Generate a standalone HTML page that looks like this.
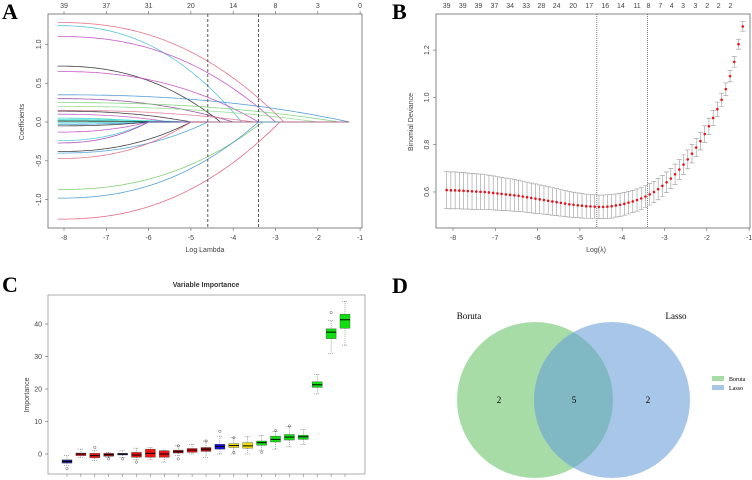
<!DOCTYPE html>
<html><head><meta charset="utf-8"><style>
html,body{margin:0;padding:0;background:#fff;}
svg{display:block;font-family:"Liberation Sans",sans-serif;}
.lbl{font-family:"Liberation Serif",serif;font-weight:bold;font-size:22px;}
.tk{font-size:7px;fill:#444;}
</style></head><body>
<svg id="fig" width="752" height="480" viewBox="0 0 752 480">
<text class="lbl" x="2" y="19">A</text>
<text class="lbl" x="392" y="19">B</text>
<text class="lbl" x="2" y="292">C</text>
<text class="lbl" x="392" y="293">D</text>
<g id="ga"></g>
<g id="gb"></g>
<g id="gc"></g>
<g id="gd">
 <circle cx="535" cy="400" r="78" fill="#a8dca6"/>
 <circle cx="612" cy="400" r="78" fill="#a8c6e8"/>
 <clipPath id="cl"><circle cx="535" cy="400" r="78"/></clipPath>
 <circle cx="612" cy="400" r="78" fill="#80b9c4" clip-path="url(#cl)"/>
 <text x="469" y="319" font-family="Liberation Serif" font-size="9" text-anchor="middle">Boruta</text>
 <text x="676" y="319" font-family="Liberation Serif" font-size="9" text-anchor="middle">Lasso</text>
 <text x="499" y="403" font-family="Liberation Serif" font-size="9" text-anchor="middle">2</text>
 <text x="574" y="403" font-family="Liberation Serif" font-size="9" text-anchor="middle">5</text>
 <text x="648" y="403" font-family="Liberation Serif" font-size="9" text-anchor="middle">2</text>
 <rect x="712" y="376" width="12" height="5" fill="#a8dca6"/>
 <text x="729" y="381" font-family="Liberation Serif" font-size="6">Boruta</text>
 <rect x="712" y="385" width="12" height="5" fill="#a8c6e8"/>
 <text x="729" y="390" font-family="Liberation Serif" font-size="6">Lasso</text>
</g>
</svg>
<script>
// ---- Panel A data ----
const aStart=[1.28,1.24,1.1,0.72,0.65,0.35,0.30,0.25,0.20,0.15,0.14,0.10,0.05,0.03,0.02,0.01,-0.01,-0.03,-0.05,-0.13,-0.24,-0.27,-0.38,-0.40,-0.47,-0.87,-0.98,-1.25];
const aZero=[-2.8,-3.8,-3.0,-4.3,-3.4,-1.25,-4.0,-1.5,-2.0,-3.5,-5.0,-5.5,-6.0,-5.0,-6.0,-5.0,-5.0,-6.0,-6.0,-6.0,-6.0,-6.0,-5.0,-4.6,-5.0,-3.3,-3.4,-2.9];
const aTop=[39,37,31,20,14,8,3,0];
const aXTicks=[-8,-7,-6,-5,-4,-3,-2,-1];
const aYTicks=[-1.0,-0.5,0.0,0.5,1.0];
const aVLines=[-4.6,-3.4];
// ---- Panel B data ----
const bMean=[0.608,0.607,0.607,0.606,0.605,0.604,0.603,0.602,0.601,0.600,0.598,0.596,0.594,0.592,0.590,0.588,0.586,0.584,0.581,0.578,0.575,0.572,0.569,0.566,0.563,0.560,0.557,0.554,0.551,0.548,0.546,0.544,0.542,0.540,0.539,0.538,0.537,0.537,0.538,0.540,0.543,0.546,0.550,0.555,0.560,0.566,0.573,0.581,0.590,0.600,0.612,0.626,0.641,0.657,0.675,0.695,0.716,0.738,0.762,0.788,0.815,0.845,0.878,0.913,0.950,0.990,1.035,1.09,1.15,1.225,1.30];
const bSE=[0.078,0.078,0.078,0.077,0.077,0.076,0.076,0.075,0.075,0.074,0.073,0.072,0.071,0.070,0.069,0.068,0.067,0.066,0.065,0.064,0.063,0.062,0.061,0.060,0.059,0.058,0.057,0.056,0.055,0.054,0.053,0.052,0.052,0.051,0.051,0.050,0.050,0.050,0.050,0.050,0.049,0.049,0.048,0.048,0.047,0.047,0.046,0.046,0.045,0.045,0.045,0.044,0.044,0.043,0.043,0.042,0.041,0.040,0.039,0.038,0.037,0.035,0.034,0.032,0.030,0.028,0.026,0.024,0.022,0.021,0.020];
const bTopLabels=[39,39,39,37,34,33,28,24,20,17,16,14,11,8,7,4,3,3,2,2,2];
const bTopPos=[-8.15,-7.77,-7.4,-7.02,-6.65,-6.27,-5.91,-5.55,-5.16,-4.78,-4.4,-4.03,-3.65,-3.38,-3.1,-2.83,-2.56,-2.27,-1.99,-1.72,-1.44];
const bYTicks=[0.6,0.8,1.0,1.2];
const bVLines=[-4.6,-3.4];
// ---- Panel C data ----
const cMed=[-2.3,0,-0.5,-0.2,0,-0.3,0.2,0,0.7,1.2,1.5,2.3,2.6,2.5,3.5,4.5,5.2,5.3,21.3,37.5,41.3];
const cQ1=[-2.8,-0.5,-1.2,-0.7,-0.3,-1,-1,-1,0.3,0.5,0.8,1.5,2,1.8,2.7,3.7,4.3,4.5,20.5,35.5,38.7];
const cQ3=[-1.8,0.3,0.2,0.2,0.2,0.5,1.5,1,1.2,1.7,2,3,3.2,3.5,4,5.5,6,5.8,22.2,38.5,43];
const cLo=[-3.5,-1,-2,-1,-1,-1.8,-1.8,-2.5,-0.5,0,-1,0,0,0,1,1.5,2.2,3,18.5,31,33.5];
const cHi=[-0.5,1.5,1,0.5,1,1.8,2,1.2,2.5,3,4,5.5,5,5.3,5.7,7,8.5,7.5,24.5,41,47];
const cOut=[[-4.5],[],[2],[-1.5],[-1.5],[-2.5],[],[],[2.5,-1.5],[],[4],[7],[0.5,5],[],[0.5],[7.2],[8.6],[],[],[43.5],[]];
const cType=["shadow","rej","rej","rejd","shadown","rej","rej","rej","rejd","rej","rejd","shadowb","tent","tent","conf","conf","conf","conf","conf","conf","conf"];
const cYTicks=[0,10,20,30,40];

const NS="http://www.w3.org/2000/svg";
function mk(parent,tag,attrs,txt){const e=document.createElementNS(NS,tag);for(const k in attrs)e.setAttribute(k,attrs[k]);if(txt!==undefined)e.textContent=txt;parent.appendChild(e);return e;}

// Panel A
(function(){
 const g=document.getElementById('ga');
 const X=v=>64+(v+8)*42.3, Y=v=>122-v*77.7;
 let r=mk(g,'rect',{x:48,y:14,width:314,height:214,fill:'none',stroke:'#666','stroke-width':0.8});
 
 
 const cols=['#e0607a','#3fb8d8','#c040c0','#222','#c040c0','#3a8fd0','#8a3a9a','#70d070','#8ad88a','#e07090','#222','#c050c0','#28c8c8','#30e0d0','#20c0a0','#222','#20d0c0','#3090d0','#222','#c040c0','#40c8e0','#a030b0','#222','#3a9ad8','#e0607a','#70c860','#3a8fd0','#e05070'];
 aStart.forEach((c,i)=>{
  const x0=aZero[i];let d='';
  for(let x=-8.15;x<=-1.25+1e-9;x+=0.05){let t=(x+8.15)/(x0+8.15);let v=t>=1?0:c*(1-Math.pow(t,2.3));d+=(d?'L':'M')+X(x).toFixed(1)+','+Y(v).toFixed(1);}
  const p=mk(g,'path',{d:d,fill:'none',stroke:cols[i%cols.length],'stroke-width':0.8,opacity:0.85});
  
  
 });
 aVLines.forEach(v=>{const l=mk(g,'line',{x1:X(v),x2:X(v),y1:14,y2:228,stroke:'#333','stroke-dasharray':'3,2','stroke-width':0.8});
  
  });
 aXTicks.forEach((v,i)=>{
  mk(g,'line',{x1:X(v),x2:X(v),y1:228,y2:231,stroke:'#666','stroke-width':0.6});
  const t=mk(g,'text',{x:X(v),y:240,class:'tk','text-anchor':'middle'},v);
  
  
  mk(g,'line',{x1:X(v),x2:X(v),y1:14,y2:11,stroke:'#666','stroke-width':0.6});
  const u=mk(g,'text',{x:X(v),y:8,class:'tk','text-anchor':'middle'},aTop[i]);
  
  
 });
 aYTicks.forEach(v=>{
  mk(g,'line',{x1:45,x2:48,y1:Y(v),y2:Y(v),stroke:'#666','stroke-width':0.6});
  const t=mk(g,'text',{x:0,y:0,class:'tk','text-anchor':'middle',transform:`translate(41,${Y(v)}) rotate(-90)`},v.toFixed(1));
  
  
 });
 let t=mk(g,'text',{x:0,y:0,class:'tk','text-anchor':'middle',transform:'translate(24,122) rotate(-90)'},'Coefficients');
 
 
 t=mk(g,'text',{x:205,y:252,class:'tk','text-anchor':'middle'},'Log Lambda');
 
 
})();

// Panel B
(function(){
 const g=document.getElementById('gb');
 const X=v=>453+(v+8)*42.3, Y=v=>192-(v-0.6)*236.5;
 let r=mk(g,'rect',{x:436,y:14,width:314,height:214,fill:'none',stroke:'#666','stroke-width':0.8});
 
 
 bVLines.forEach(v=>{const l=mk(g,'line',{x1:X(v),x2:X(v),y1:14,y2:228,stroke:'#444','stroke-dasharray':'1,1','stroke-width':0.7});
  
  });
 bMean.forEach((m,i)=>{
  const x=X(-8.15+0.1*i), s=bSE[i];
  const e=mk(g,'path',{d:`M${x},${Y(m+s)}L${x},${Y(m-s)}M${x-2.5},${Y(m+s)}L${x+2.5},${Y(m+s)}M${x-2.5},${Y(m-s)}L${x+2.5},${Y(m-s)}`,stroke:'#999','stroke-width':0.6,fill:'none'});
  
  
  const c=mk(g,'circle',{cx:x,cy:Y(m),r:1.3,fill:'#e8141c'});
  
  
 });
 [-8,-7,-6,-5,-4,-3,-2,-1].forEach(v=>{
  mk(g,'line',{x1:X(v),x2:X(v),y1:228,y2:231,stroke:'#666','stroke-width':0.6});
  const t=mk(g,'text',{x:X(v),y:240,class:'tk','text-anchor':'middle'},v);
  
  
 });
 bTopLabels.forEach((v,i)=>{
  const t=mk(g,'text',{x:X(bTopPos[i]),y:8,class:'tk','text-anchor':'middle'},v);
  
  
 });
 bYTicks.forEach(v=>{
  mk(g,'line',{x1:433,x2:436,y1:Y(v),y2:Y(v),stroke:'#666','stroke-width':0.6});
  const t=mk(g,'text',{x:0,y:0,class:'tk','text-anchor':'middle',transform:`translate(429,${Y(v)}) rotate(-90)`},v.toFixed(1));
  
  
 });
 let t=mk(g,'text',{x:0,y:0,class:'tk','text-anchor':'middle',transform:'translate(413,122) rotate(-90)'},'Binomial Deviance');
 
 
 t=mk(g,'text',{x:596,y:252,class:'tk','text-anchor':'middle'},'Log(λ)');
 
 
})();

// Panel C
(function(){
 const g=document.getElementById('gc');
 const X=i=>67+i*13.9, Y=v=>454-v*3.25;
 const col={shadow:'#1e2a9c',shadown:'#0a0a6a',shadowb:'#1010e0',rej:'#ee1515',rejd:'#b01010',tent:'#f0e010',conf:'#10e010'};
 let r=mk(g,'rect',{x:48,y:295,width:317,height:179,fill:'none',stroke:'#999','stroke-width':0.8});
 
 
 let t=mk(g,'text',{x:206,y:287,'font-size':7,'font-weight':'bold','text-anchor':'middle',fill:'#333'},'Variable Importance');
 
 
 cMed.forEach((m,i)=>{
  const x=X(i);
  const w=mk(g,'path',{d:`M${x},${Y(cHi[i])}L${x},${Y(cQ3[i])}M${x},${Y(cQ1[i])}L${x},${Y(cLo[i])}M${x-3},${Y(cHi[i])}L${x+3},${Y(cHi[i])}M${x-3},${Y(cLo[i])}L${x+3},${Y(cLo[i])}`,stroke:'#555','stroke-width':0.5,'stroke-dasharray':'1,1',fill:'none'});
  
  
  const b=mk(g,'rect',{x:x-5,y:Y(cQ3[i]),width:10,height:Math.max(1.5,Y(cQ1[i])-Y(cQ3[i])),fill:col[cType[i]],stroke:'#444','stroke-width':0.4});
  
  
  mk(g,'line',{x1:x-5,x2:x+5,y1:Y(m),y2:Y(m),stroke:'#000','stroke-width':1});
  cOut[i].forEach(o=>{const c=mk(g,'circle',{cx:x,cy:Y(o),r:1.2,fill:'none',stroke:'#555','stroke-width':0.5});
   
   });
  mk(g,'line',{x1:x,x2:x,y1:474,y2:477,stroke:'#666','stroke-width':0.5});
 });
 cYTicks.forEach(v=>{
  mk(g,'line',{x1:45,x2:48,y1:Y(v),y2:Y(v),stroke:'#666','stroke-width':0.6});
  const t=mk(g,'text',{x:42,y:Y(v)+2.5,class:'tk','text-anchor':'end'},v);
  
  
 });
 t=mk(g,'text',{x:0,y:0,class:'tk','text-anchor':'middle',transform:'translate(29,395) rotate(-90)'},'Importance');
 
 
})();
</script>
</body></html>
